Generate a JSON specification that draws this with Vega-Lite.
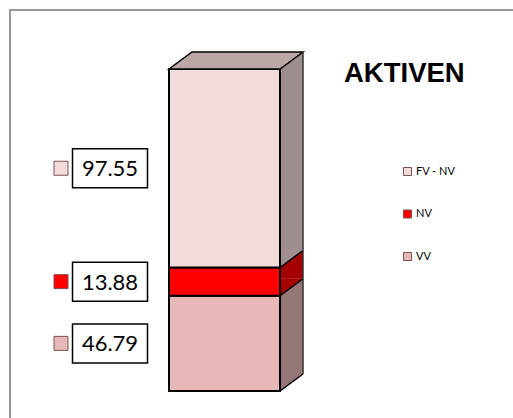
{
  "$schema": "https://vega.github.io/schema/vega-lite/v6.json",
  "width": 510,
  "height": 415,
  "autosize": {"type": "none"},
  "padding": {"left": 10, "top": 10, "right": 0, "bottom": 0},
  "background": "white",
  "config": {
    "view": {"stroke": "#999999", "strokeWidth": 2},
    "legend": {"orient": "none", "legendX": 392, "legendY": 156}
  },
  "title": {
    "text": "AKTIVEN",
    "font": "Liberation Sans",
    "fontSize": 27.5,
    "fontWeight": "bold",
    "color": "black",
    "anchor": "start",
    "frame": "group",
    "baseline": "alphabetic",
    "offset": 0,
    "dx": 334,
    "dy": 99
  },
  "data": {
    "values": [
      {"segment": "VV", "value": 46.79},
      {"segment": "NV", "value": 13.88},
      {"segment": "FV - NV", "value": 97.55}
    ]
  },
  "layer": [
    {
      "mark": {"type": "bar", "width": 23, "xOffset": 67, "yOffset": -17, "y2Offset": -17, "strokeWidth": 0},
      "encoding": {
        "x": {"datum": "AKTIVEN", "type": "nominal", "axis": null, "scale": {"paddingInner": 0, "paddingOuter": 0.5, "align": 0.3412}},
        "y": {"field": "value", "type": "quantitative", "stack": "zero", "axis": null, "scale": {"domain": [-16.71, 187.21], "nice": false, "zero": false}},
        "order": {"field": "segment", "sort": "descending"},
        "fill": {"field": "segment", "type": "nominal", "legend": null, "scale": {"domain": ["FV - NV", "NV", "VV"], "range": ["#9E8E8D", "#A50000", "#947776"]}}
      }
    },
    {
      "mark": {"type": "point", "shape": "M0,0.5L0,-17L23.5,-17Z", "size": 4, "filled": true, "opacity": 1, "strokeWidth": 0, "xOffset": 55.5},
      "encoding": {
        "x": {"datum": "AKTIVEN", "type": "nominal", "axis": null},
        "y": {"field": "value", "type": "quantitative", "stack": "zero", "bandPosition": 0, "axis": null, "scale": {"domain": [-16.71, 187.21], "nice": false, "zero": false}},
        "order": {"field": "segment", "sort": "descending"},
        "fill": {"field": "segment", "type": "nominal", "legend": null, "scale": {"domain": ["FV - NV", "NV", "VV"], "range": ["#9E8E8D", "#A50000", "#947776"]}}
      }
    },
    {
      "mark": {"type": "bar", "width": 111, "stroke": "black", "strokeWidth": 2},
      "encoding": {
        "x": {"datum": "AKTIVEN", "type": "nominal", "axis": null},
        "y": {"field": "value", "type": "quantitative", "stack": "zero", "axis": null, "scale": {"domain": [-16.71, 187.21], "nice": false, "zero": false}},
        "order": {"field": "segment", "sort": "descending"},
        "color": {
          "field": "segment", "type": "nominal",
          "scale": {"domain": ["FV - NV", "NV", "VV"], "range": ["#F2DCDB", "#FF0000", "#E6B9B8"]},
          "legend": {
            "title": null, "symbolType": "square", "symbolSize": 64,
            "symbolStrokeColor": "#7f6060", "symbolStrokeWidth": 1,
            "labelFont": "Lato", "labelFontSize": 11, "labelColor": "black",
            "rowPadding": 29.5, "labelOffset": 3
          }
        }
      }
    },
    {
      "mark": {"type": "point", "shape": "M0,0L23,-17", "size": 4, "filled": false, "opacity": 1, "stroke": "black", "strokeWidth": 1.5, "xOffset": 55.5},
      "encoding": {
        "x": {"datum": "AKTIVEN", "type": "nominal", "axis": null},
        "y": {"field": "value", "type": "quantitative", "stack": "zero", "bandPosition": 0, "axis": null, "scale": {"domain": [-16.71, 187.21], "nice": false, "zero": false}},
        "order": {"field": "segment", "sort": "descending"},
        "detail": {"field": "segment", "type": "nominal"}
      }
    },
    {
      "mark": {"type": "point", "shape": "M0,0L111,0L134,-17L23,-17Z", "size": 4, "filled": true, "opacity": 1, "fill": "#BBA7A6", "stroke": "black", "strokeWidth": 1.5, "xOffset": -55.5},
      "encoding": {
        "x": {"datum": "AKTIVEN", "type": "nominal", "axis": null},
        "y": {"aggregate": "sum", "field": "value", "type": "quantitative", "stack": null, "axis": null, "scale": {"domain": [-16.71, 187.21], "nice": false, "zero": false}}
      }
    },
    {
      "mark": {"type": "rule", "stroke": "#333333", "strokeWidth": 1.5, "xOffset": 78.5, "yOffset": -17, "y2Offset": -17},
      "encoding": {
        "x": {"datum": "AKTIVEN", "type": "nominal", "axis": null},
        "y": {"aggregate": "sum", "field": "value", "type": "quantitative", "stack": null, "axis": null, "scale": {"domain": [-16.71, 187.21], "nice": false, "zero": false}},
        "y2": {"datum": 0}
      }
    },
    {
      "mark": {"type": "point", "shape": "M-37.5,-19.5H37.5V19.5H-37.5Z", "size": 4, "filled": true, "opacity": 1, "fill": "white", "stroke": "black", "strokeWidth": 1.5, "xOffset": -114.5},
      "encoding": {
        "x": {"datum": "AKTIVEN", "type": "nominal", "axis": null},
        "y": {"field": "value", "type": "quantitative", "stack": "zero", "bandPosition": 0.5, "axis": null, "scale": {"domain": [-16.71, 187.21], "nice": false, "zero": false}},
        "order": {"field": "segment", "sort": "descending"},
        "detail": {"field": "segment", "type": "nominal"}
      }
    },
    {
      "mark": {"type": "text", "font": "Lato", "fontSize": 22, "color": "black", "align": "center", "baseline": "middle", "xOffset": -114.5, "dy": 1},
      "encoding": {
        "x": {"datum": "AKTIVEN", "type": "nominal", "axis": null},
        "y": {"field": "value", "type": "quantitative", "stack": "zero", "bandPosition": 0.5, "axis": null, "scale": {"domain": [-16.71, 187.21], "nice": false, "zero": false}},
        "order": {"field": "segment", "sort": "descending"},
        "detail": {"field": "segment", "type": "nominal"},
        "text": {"field": "value", "type": "quantitative", "format": ".2f"}
      }
    },
    {
      "mark": {"type": "point", "shape": "square", "size": 196, "filled": true, "opacity": 1, "stroke": "#7f5050", "strokeWidth": 1, "xOffset": -163.5},
      "encoding": {
        "x": {"datum": "AKTIVEN", "type": "nominal", "axis": null},
        "y": {"field": "value", "type": "quantitative", "stack": "zero", "bandPosition": 0.5, "axis": null, "scale": {"domain": [-16.71, 187.21], "nice": false, "zero": false}},
        "order": {"field": "segment", "sort": "descending"},
        "color": {"field": "segment", "type": "nominal"}
      }
    }
  ],
  "resolve": {"scale": {"fill": "independent"}}
}
